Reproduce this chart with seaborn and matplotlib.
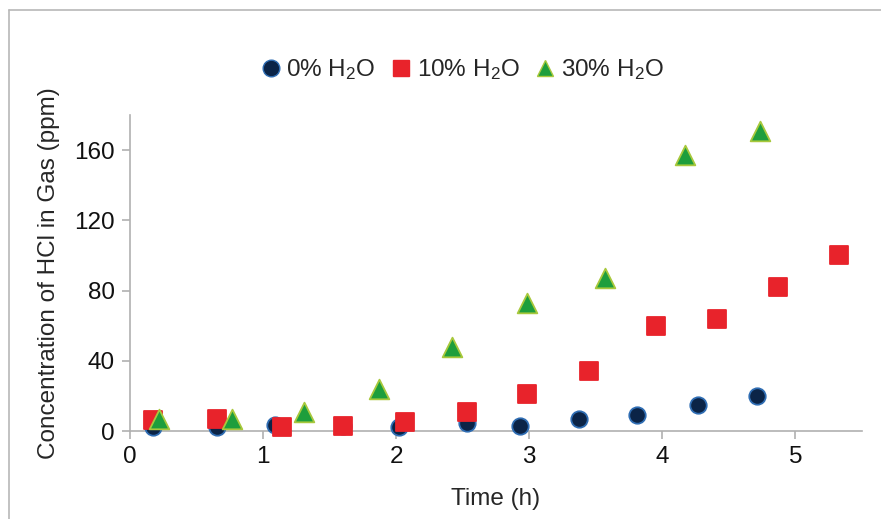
import matplotlib
matplotlib.use("Agg")
import matplotlib.pyplot as plt
import seaborn as sns
import pandas as pd
from matplotlib.lines import Line2D

sns.set_theme(style="white")
plt.rcParams['font.family'] = ['Liberation Sans', 'DejaVu Sans']
plt.rcParams['mathtext.fontset'] = 'custom'
plt.rcParams['mathtext.rm'] = 'Liberation Sans'
plt.rcParams['mathtext.it'] = 'Liberation Sans'

# Data
time_0 = [0.17, 0.65, 1.09, 1.60, 2.02, 2.53, 2.93, 3.37, 3.81, 4.27, 4.71]
hcl_0 = [2.3, 2.3, 3.5, 3.0, 2.0, 4.5, 3.0, 6.8, 9.0, 15.0, 20.0]

time_10 = [0.17, 0.65, 1.14, 1.60, 2.07, 2.53, 2.98, 3.45, 3.95, 4.41, 4.87, 5.33]
hcl_10 = [6.0, 7.0, 2.5, 3.0, 5.0, 11.0, 21.0, 34.0, 60.0, 64.0, 82.0, 100.0]

time_30 = [0.22, 0.77, 1.31, 1.87, 2.42, 2.98, 3.57, 4.17, 4.73]
hcl_30 = [7.0, 7.0, 11.0, 24.0, 48.0, 73.0, 87.0, 157.0, 171.0]

labels = ["0% H$_2$O", "10% H$_2$O", "30% H$_2$O"]
x_ticks = [0, 1, 2, 3, 4, 5]
y_ticks = [0, 40, 80, 120, 160]

FS = 17.5

fig = plt.figure(figsize=(8.81, 5.19), dpi=100)
ax = fig.add_axes([130/881, 1 - 431/519, (862 - 130)/881, (431 - 115)/519])

series = [
    (time_0, hcl_0, labels[0], "o", "#0b2447", "#2f6db3", 140),
    (time_10, hcl_10, labels[1], "s", "#e8232b", "#e8232b", 160),
    (time_30, hcl_30, labels[2], "^", "#1e9e3c", "#a8c83c", 200),
]
for t, v, lab, m, fc, ec, s in series:
    df = pd.DataFrame({"Time": t, "HCl": v})
    sns.scatterplot(data=df, x="Time", y="HCl", marker=m, color=fc,
                    edgecolor=ec, linewidth=1.3, s=s, ax=ax, label=lab,
                    zorder=3, clip_on=False)

ax.set_xlim(0, 5.5)
ax.set_ylim(0, 180)
ax.set_xticks(x_ticks)
ax.set_yticks(y_ticks)
ax.set_xlabel("Time (h)", fontsize=FS, labelpad=14)
ax.set_ylabel("Concentration of HCl in Gas (ppm)", fontsize=FS, labelpad=10)

for side in ["top", "right"]:
    ax.spines[side].set_visible(False)
for side in ["left", "bottom"]:
    ax.spines[side].set_color("#b0b0b0")
    ax.spines[side].set_linewidth(1.2)
ax.tick_params(axis="both", which="major", length=6, width=1.2,
               color="#b0b0b0", labelsize=FS, labelcolor="#111111",
               direction="out", bottom=True, left=True, pad=5)
ax.grid(False)

handles = [
    Line2D([], [], marker="o", linestyle="", markersize=12,
           markerfacecolor="#0b2447", markeredgecolor="#2f6db3"),
    Line2D([], [], marker="s", linestyle="", markersize=12,
           markerfacecolor="#e8232b", markeredgecolor="#e8232b"),
    Line2D([], [], marker="^", linestyle="", markersize=12,
           markerfacecolor="#1e9e3c", markeredgecolor="#a8c83c"),
]
ax.legend(handles, labels, loc="center", bbox_to_anchor=(461/881, 1 - 70/519),
          bbox_transform=fig.transFigure, ncol=3, frameon=False,
          fontsize=FS, handletextpad=0.15, columnspacing=0.55, handlelength=1.0)

# thin frame around the figure (top and left edges visible)
fig.add_artist(Line2D([9/881, 1.0], [1 - 10/519, 1 - 10/519],
                      transform=fig.transFigure, color="#b8b8b8", lw=1.2))
fig.add_artist(Line2D([9/881, 9/881], [0.0, 1 - 10/519],
                      transform=fig.transFigure, color="#b8b8b8", lw=1.2))

fig.savefig("out.png", dpi=100)
